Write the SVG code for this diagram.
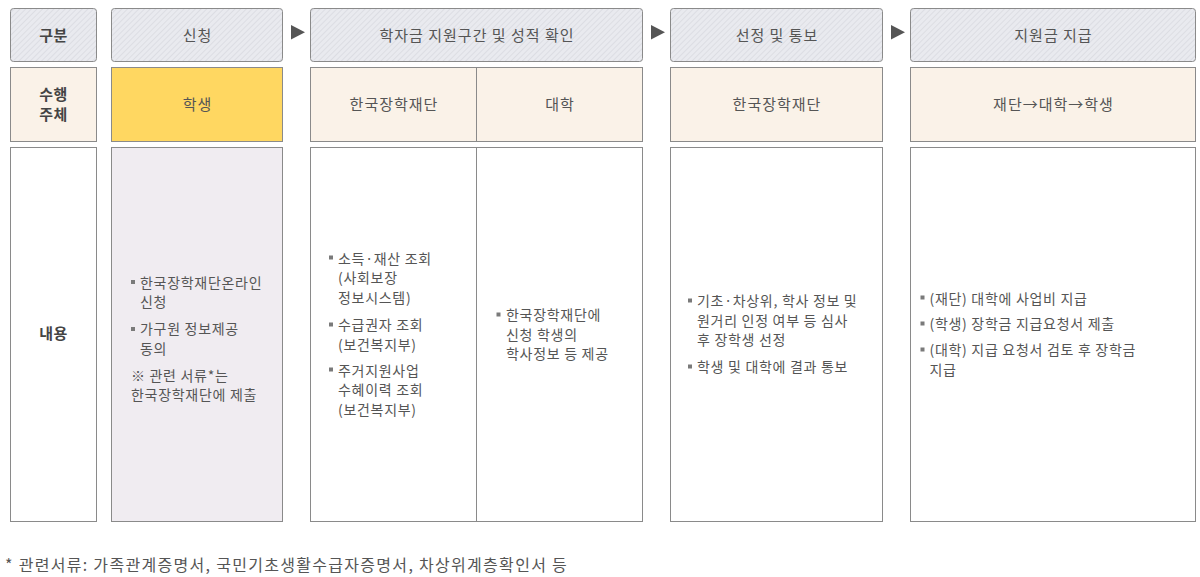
<svg xmlns="http://www.w3.org/2000/svg" width="1200" height="577" viewBox="0 0 1200 577">
<defs>
<pattern id="hatch" patternUnits="userSpaceOnUse" width="4" height="4" patternTransform="rotate(45)">
<rect width="4" height="4" fill="#e9eaef"/>
<line x1="0" y1="0" x2="0" y2="4" stroke="#d3d5dc" stroke-width="1.2"/>
</pattern>
<style>
.hd{fill:url(#hatch);stroke:#8a8a8a;stroke-width:1}
.sub{fill:#faf2e8;stroke:#8a8a8a;stroke-width:1}
.yel{fill:#ffd761;stroke:#8a8a8a;stroke-width:1}
.body{fill:#ffffff;stroke:#8a8a8a;stroke-width:1}
.lav{fill:#f0ecf1;stroke:#8a8a8a;stroke-width:1}
.sep{stroke:#8a8a8a;stroke-width:1}
text{font-family:"Noto Sans CJK KR","Noto Sans",sans-serif;fill:#555}
.ht{font-size:15px;text-anchor:middle;letter-spacing:1px}
.hb{font-size:15px;text-anchor:middle;font-weight:bold;fill:#444;letter-spacing:0.5px}
.ct{font-size:14px;letter-spacing:0.7px}
.fn{font-size:16px;letter-spacing:1.3px}
.bl{fill:#7a7a7a}
.arr{fill:#555}
</style>
</defs>

<g id="col-label">
<rect class="hd" x="10.5" y="8.5" width="86" height="53" rx="3"/>
<text class="hb" x="53.5" y="41">구분</text>
<rect class="sub" x="10.5" y="67.5" width="86" height="74"/>
<text class="hb" x="53.5" y="100">수행</text>
<text class="hb" x="53.5" y="120">주체</text>
<rect class="body" x="10.5" y="147.5" width="86" height="374"/>
<text class="hb" x="53.5" y="338.5">내용</text>
</g>

<g id="col-apply">
<rect class="hd" x="111.5" y="8.5" width="171" height="53" rx="3"/>
<text class="ht" x="197.5" y="41">신청</text>
<rect class="yel" x="111.5" y="67.5" width="171" height="74"/>
<text class="ht" x="197.5" y="109.5">학생</text>
<rect class="lav" x="111.5" y="147.5" width="171" height="374"/>
<rect class="bl" x="131" y="280" width="4" height="4"/>
<text class="ct" x="140" y="288">한국장학재단온라인</text>
<text class="ct" x="140" y="307">신청</text>
<rect class="bl" x="131" y="327" width="4" height="4"/>
<text class="ct" x="140" y="334">가구원 정보제공</text>
<text class="ct" x="140" y="354">동의</text>
<text class="ct" x="131" y="381">※ 관련 서류*는</text>
<text class="ct" x="131" y="399.5">한국장학재단에 제출</text>
</g>

<g id="col-check">
<rect class="hd" x="310.5" y="8.5" width="332" height="53" rx="3"/>
<text class="ht" x="477" y="41">학자금 지원구간 및 성적 확인</text>
<rect class="sub" x="310.5" y="67.5" width="332" height="74"/>
<line class="sep" x1="476.5" y1="67.5" x2="476.5" y2="141.5"/>
<text class="ht" x="394" y="109.5">한국장학재단</text>
<text class="ht" x="560" y="109.5">대학</text>
<rect class="body" x="310.5" y="147.5" width="332" height="374"/>
<line class="sep" x1="476.5" y1="147.5" x2="476.5" y2="521.5"/>
<rect class="bl" x="329" y="255.5" width="4" height="4"/>
<text class="ct" x="338" y="263.5">소득·재산 조회</text>
<text class="ct" x="338" y="282.5">(사회보장</text>
<text class="ct" x="338" y="303">정보시스템)</text>
<rect class="bl" x="329" y="322.5" width="4" height="4"/>
<text class="ct" x="338" y="330">수급권자 조회</text>
<text class="ct" x="338" y="349.5">(보건복지부)</text>
<rect class="bl" x="329" y="367.5" width="4" height="4"/>
<text class="ct" x="338" y="375.5">주거지원사업</text>
<text class="ct" x="338" y="395">수혜이력 조회</text>
<text class="ct" x="338" y="414.5">(보건복지부)</text>
<rect class="bl" x="496.5" y="312.5" width="4" height="4"/>
<text class="ct" x="506" y="320">한국장학재단에</text>
<text class="ct" x="506" y="340">신청 학생의</text>
<text class="ct" x="506" y="358.5">학사정보 등 제공</text>
</g>

<g id="col-select">
<rect class="hd" x="670.5" y="8.5" width="212" height="53" rx="3"/>
<text class="ht" x="777" y="41">선정 및 통보</text>
<rect class="sub" x="670.5" y="67.5" width="212" height="74"/>
<text class="ht" x="777" y="109.5">한국장학재단</text>
<rect class="body" x="670.5" y="147.5" width="212" height="374"/>
<rect class="bl" x="688" y="298.5" width="4" height="4"/>
<text class="ct" x="697" y="306">기초·차상위, 학사 정보 및</text>
<text class="ct" x="697" y="326">원거리 인정 여부 등 심사</text>
<text class="ct" x="697" y="345">후 장학생 선정</text>
<rect class="bl" x="688" y="364.5" width="4" height="4"/>
<text class="ct" x="697" y="372">학생 및 대학에 결과 통보</text>
</g>

<g id="col-pay">
<rect class="hd" x="910.5" y="8.5" width="285" height="53" rx="3"/>
<text class="ht" x="1053.5" y="41">지원금 지급</text>
<rect class="sub" x="910.5" y="67.5" width="285" height="74"/>
<text class="ht" x="1053.5" y="109.5">재단→대학→학생</text>
<rect class="body" x="910.5" y="147.5" width="285" height="374"/>
<rect class="bl" x="920.5" y="295.5" width="4" height="4"/>
<text class="ct" x="929.5" y="303.5">(재단) 대학에 사업비 지급</text>
<rect class="bl" x="920.5" y="321.5" width="4" height="4"/>
<text class="ct" x="929.5" y="329">(학생) 장학금 지급요청서 제출</text>
<rect class="bl" x="920.5" y="347.5" width="4" height="4"/>
<text class="ct" x="929.5" y="355">(대학) 지급 요청서 검토 후 장학금</text>
<text class="ct" x="929.5" y="375">지급</text>
</g>

<g id="connectors">
<polygon class="arr" points="291,25 305,32.3 291,39.5"/>
<polygon class="arr" points="651,25 665,32.3 651,39.5"/>
<polygon class="arr" points="891,25 905,32.3 891,39.5"/>
</g>

<g id="footnote">
<text class="fn" x="5" y="571">* 관련서류: 가족관계증명서, 국민기초생활수급자증명서, 차상위계층확인서 등</text>
</g>
</svg>
